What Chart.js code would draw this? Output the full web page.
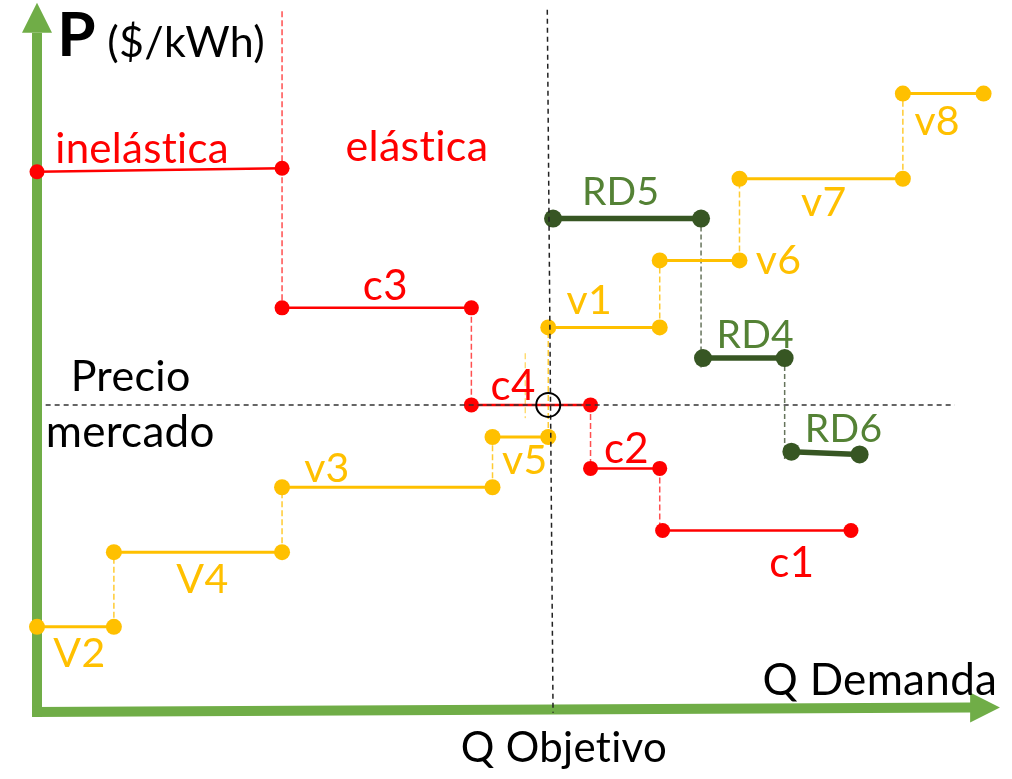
<!DOCTYPE html>
<html>
<head>
<meta charset="utf-8">
<script src="https://cdn.jsdelivr.net/npm/chart.js@4.4.0/dist/chart.umd.min.js"></script>
<style>
  html, body { margin: 0; padding: 0; background: #fff; }
  #wrap { width: 1012px; height: 779px; position: relative; }
</style>
</head>
<body>
<div id="wrap"><canvas id="chart"></canvas></div>
<script>
// Demand bids (red): inelastic block, then c3, c4, c2, c1
const redNames = ['inelástica', 'c3', 'c4', 'c2', 'c1'];
const redQStart = [0, 25.5, 45.2, 57.6, 65.1];
const redQEnd = [25.5, 45.2, 57.6, 64.8, 84.7];
const redPStart = [77.4, 57.9, 44.0, 34.9, 26.0];
const redPEnd = [77.9, 57.9, 44.0, 34.9, 26.0];

// Offer blocks (yellow)
const yellowNames = ['V2', 'V4', 'v3', 'v5', 'v1', 'v6', 'v7', 'v8'];
const yellowQStart = [0, 8.0, 25.5, 47.4, 53.2, 64.8, 73.1, 90.1];
const yellowQEnd = [8.0, 25.5, 47.4, 53.2, 64.8, 73.1, 90.1, 98.5];
const yellowP = [12.2, 22.9, 32.2, 39.4, 55.1, 64.7, 76.4, 88.6];

// Demand response blocks (green)
const greenNames = ['RD5', 'RD4', 'RD6'];
const greenQStart = [53.7, 69.3, 78.5];
const greenQEnd = [69.1, 77.8, 85.6];
const greenPStart = [70.7, 50.7, 37.3];
const greenPEnd = [70.7, 50.7, 36.9];

// Market clearing point
const marketPrice = 44.0;
const targetQ = 53.2;
const elasticLimitQ = 25.5;

const RED = '#FF0000', YELLOW = '#FFC000', DARKGREEN = '#375623', LABELGREEN = '#548235';
const FONT = 'Lato, "Open Sans", sans-serif';

// text labels: [text, Q, P, color, size, bold]
const labels = [
    ['P', 2.1, 94.0, '#000', 62, true],
    ['($/kWh)', 7.3, 93.9, '#000', 43, false],
    ['inelástica', 1.9, 78.6, RED, 42, false],
    ['elástica', 32.1, 78.9, RED, 43, false],
    ['c3', 33.9, 59.0, RED, 42, false],
    ['c4', 47.2, 44.7, RED, 42, false],
    ['c2', 59.0, 35.7, RED, 42, false],
    ['c1', 76.2, 19.3, RED, 42, false],
    ['Precio', 3.5, 46.0, '#000', 43, false],
    ['mercado', 0.9, 37.9, '#000', 44, false],
    ['V2', 1.7, 6.4, YELLOW, 41, false],
    ['V4', 14.5, 17.1, YELLOW, 41, false],
    ['v3', 27.8, 32.9, YELLOW, 41, false],
    ['v5', 48.4, 34.1, YELLOW, 41, false],
    ['v1', 55.1, 57.0, YELLOW, 41, false],
    ['v6', 74.8, 62.7, YELLOW, 41, false],
    ['v7', 79.5, 71.0, YELLOW, 41, false],
    ['v8', 91.3, 82.7, YELLOW, 41, false],
    ['RD5', 56.7, 72.6, LABELGREEN, 39, false],
    ['RD4', 70.7, 52.1, LABELGREEN, 39, false],
    ['RD6', 79.9, 38.7, LABELGREEN, 39, false],
    ['Q Demanda', 75.5, 2.4, '#000', 44, false],
    ['Q Objetivo', 44.1, -7.1, '#000', 42, false]
];

const datasets = [];

function addLine(points, color, width, radius, dash) {
    datasets.push({
        data: points,
        borderColor: color,
        borderWidth: width,
        borderDash: dash || [],
        pointRadius: radius,
        pointHoverRadius: radius,
        pointBackgroundColor: color,
        pointBorderWidth: 0,
        fill: false,
        tension: 0,
        clip: false
    });
}

// dashed guides
addLine([{ x: elasticLimitQ, y: 100.4 }, { x: elasticLimitQ, y: redPEnd[0] }], '#FF5050', 1.5, 0, [6, 3]);
for (let i = 0; i < redNames.length - 1; i++) {
    addLine([{ x: redQEnd[i], y: redPEnd[i] }, { x: redQEnd[i], y: redPStart[i + 1] }], '#FF5050', 1.5, 0, [6, 3]);
}
for (let i = 0; i < yellowNames.length - 1; i++) {
    addLine([{ x: yellowQEnd[i], y: yellowP[i] }, { x: yellowQEnd[i], y: yellowP[i + 1] }], '#FFCB33', 1.5, 0, [6, 3]);
}
addLine([{ x: 50.8, y: 51.4 }, { x: 50.8, y: 42.1 }], '#FFCB33', 1, 0, [6, 3]);
for (let i = 0; i < greenNames.length - 1; i++) {
    addLine([{ x: greenQEnd[i], y: greenPEnd[i] }, { x: greenQEnd[i], y: greenPStart[i + 1] - 1.5 }], '#66745C', 1.5, 0, [5, 3]);
}

// step blocks
for (let i = 0; i < yellowNames.length; i++) {
    addLine([{ x: yellowQStart[i], y: yellowP[i] }, { x: yellowQEnd[i], y: yellowP[i] }], YELLOW, 3, 8);
}
for (let i = 0; i < redNames.length; i++) {
    addLine([{ x: redQStart[i], y: redPStart[i] }, { x: redQEnd[i], y: redPEnd[i] }], RED, 2.5, 7.5);
}
for (let i = 0; i < greenNames.length; i++) {
    addLine([{ x: greenQStart[i], y: greenPStart[i] }, { x: greenQEnd[i], y: greenPEnd[i] }], DARKGREEN, 5.5, 9);
}

// market price and target quantity
addLine([{ x: 0.9, y: marketPrice }, { x: 95.5, y: marketPrice }], '#333333', 1.5, 0, [5, 4]);
addLine([{ x: targetQ - 0.1, y: 100.6 }, { x: targetQ + 0.5, y: -0.1 }], '#222222', 1.5, 0, [5, 4]);
datasets.push({
    data: [{ x: targetQ, y: marketPrice }],
    showLine: false,
    pointRadius: 12,
    pointHoverRadius: 12,
    pointBackgroundColor: 'rgba(0,0,0,0)',
    pointBorderColor: '#000',
    pointBorderWidth: 2,
    clip: false
});

// later datasets on top
datasets.forEach((d, i) => { d.order = datasets.length - i; });

const axesPlugin = {
    id: 'axes',
    beforeDatasetsDraw(chart) {
        const { ctx, scales: { x, y } } = chart;
        ctx.save();
        ctx.fillStyle = '#70AD47';
        // vertical axis with arrow
        const x0 = x.getPixelForValue(0);
        const yBottom = y.getPixelForValue(-0.7);
        const yBase = y.getPixelForValue(97.3);
        const yTip = y.getPixelForValue(101.6);
        ctx.fillRect(x0 - 5, yBase, 10, yBottom - yBase);
        ctx.beginPath();
        ctx.moveTo(x0 - 15, yBase);
        ctx.lineTo(x0, yTip);
        ctx.lineTo(x0 + 15, yBase);
        ctx.closePath();
        ctx.fill();
        // horizontal axis with arrow, it rises a little to the right
        const xl = x.getPixelForValue(-0.5), xb = x.getPixelForValue(97.1), xt = x.getPixelForValue(100.2);
        const yl = y.getPixelForValue(0), yr = y.getPixelForValue(0.65);
        ctx.beginPath();
        ctx.moveTo(xl, yl - 5);
        ctx.lineTo(xb, yr - 5);
        ctx.lineTo(xb, yr - 15);
        ctx.lineTo(xt, yr);
        ctx.lineTo(xb, yr + 15);
        ctx.lineTo(xb, yr + 5);
        ctx.lineTo(xl, yl + 5);
        ctx.closePath();
        ctx.fill();
        ctx.restore();
    },
    afterDatasetsDraw(chart) {
        const { ctx, scales: { x, y } } = chart;
        ctx.save();
        ctx.textAlign = 'left';
        ctx.textBaseline = 'alphabetic';
        // a little letter spacing keeps Lato from joining "st" / "ti" into ligatures
        ctx.letterSpacing = '0.3px';
        labels.forEach(([text, q, p, color, size, bold]) => {
            ctx.font = (bold ? 'bold ' : '') + size + 'px ' + FONT;
            ctx.fillStyle = color;
            ctx.fillText(text, x.getPixelForValue(q), y.getPixelForValue(p));
        });
        ctx.restore();
    }
};

new Chart(document.getElementById('chart'), {
    type: 'line',
    data: { datasets },
    options: {
        responsive: true,
        maintainAspectRatio: false,
        animation: false,
        events: [],
        layout: { padding: { left: 37, right: 12, top: 12, bottom: 67 } },
        plugins: { legend: { display: false }, tooltip: { enabled: false } },
        scales: {
            x: { type: 'linear', min: 0, max: 100, display: false },
            y: { type: 'linear', min: 0, max: 100, display: false }
        }
    },
    plugins: [axesPlugin]
});
</script>
</body>
</html>
